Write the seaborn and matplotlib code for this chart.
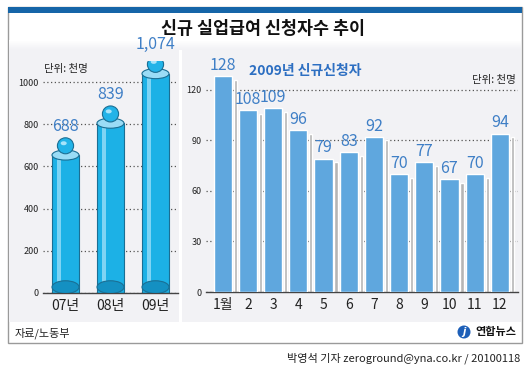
import numpy as np
import pandas as pd
import matplotlib.pyplot as plt
import seaborn as sns
from matplotlib.patches import Rectangle, Ellipse

# data
years = ['07년', '08년', '09년']
yearly = [688, 839, 1074]
yearly_labels = ['688', '839', '1,074']

months = ['1월', '2', '3', '4', '5', '6', '7', '8', '9', '10', '11', '12']
monthly = [128, 108, 109, 96, 79, 83, 92, 70, 77, 67, 70, 94]

sns.set_style('white')
plt.rcParams['font.family'] = ['Noto Sans CJK KR', 'DejaVu Sans']

W, H = 530, 370
fig = plt.figure(figsize=(W / 100, H / 100), dpi=100)
fig.patch.set_facecolor('white')


def fx(px):
    return px / W


def fy(py):
    return 1 - py / H


# frame and backgrounds
fig.add_artist(Rectangle((fx(8), fy(343)), fx(514), 336 / H, transform=fig.transFigure,
                         facecolor='white', edgecolor='#9a9a9a', lw=1.0, zorder=0))
fig.add_artist(Rectangle((fx(9), fy(322)), fx(512), 282 / H, transform=fig.transFigure,
                         facecolor='#f2f2f5', edgecolor='none', zorder=0))
# soft top fade from white into the panel grey
grad = fig.add_axes([fx(9), fy(50), fx(512), 10 / H], zorder=0)
top_c = np.array([1.0, 1.0, 1.0])
bot_c = np.array([0xf2, 0xf2, 0xf5]) / 255
t = np.linspace(0, 1, 10).reshape(-1, 1, 1)
grad.imshow(top_c * (1 - t) + bot_c * t, aspect='auto')
grad.axis('off')
fig.add_artist(Rectangle((fx(179), fy(322)), fx(3), 282 / H, transform=fig.transFigure,
                         facecolor='white', edgecolor='none', zorder=0))
fig.add_artist(Rectangle((fx(8), fy(13)), fx(514), 6 / H, transform=fig.transFigure,
                         facecolor='#1565a8', edgecolor='none', zorder=1))

fig.text(fx(263), fy(29), '신규 실업급여 신청자수 추이', ha='center', va='center',
         fontsize=12.5, fontweight='bold', color='#111111')

# ---------- left: yearly cylinders ----------
ax1 = fig.add_axes([fx(43), fy(293), fx(135), 232 / H])
ax1.set_facecolor('none')
body = [v - 34 for v in yearly]
sns.barplot(x=years, y=body, ax=ax1, color='#1cb1e6', width=0.6, saturation=1,
            edgecolor='#1b6f94', linewidth=0.8, zorder=2)
ax1.set_xlim(-0.5, 2.5)
ax1.set_ylim(0, 1100)
ax1.set_yticks(range(0, 1001, 200))
ax1.grid(axis='y', linestyle=(0, (1, 2)), color='#555555', linewidth=0.9)
ax1.set_axisbelow(True)

ux = 44.5  # px per x unit
uy = 0.211  # px per y unit
for i, (v, b, lab) in enumerate(zip(yearly, body, yearly_labels)):
    # highlight stripe
    ax1.add_patch(Rectangle((i - 0.2, 20), 0.09, b - 20, facecolor='#7fd4f4',
                            edgecolor='none', zorder=3))
    # bottom rounding
    ax1.add_patch(Ellipse((i, 28), 0.6, 60, facecolor='#1490c2', edgecolor='#1b6f94',
                          lw=0.8, zorder=3))
    # top cap
    ax1.add_patch(Ellipse((i, b), 0.6, 10 / uy, facecolor='#9adcf6', edgecolor='#1b6f94',
                          lw=0.8, zorder=4))
    # ball
    ax1.add_patch(Ellipse((i, v + 10), 16 / ux, 16 / uy, facecolor='#22b3e8',
                          edgecolor='#1b6f94', lw=0.8, zorder=5))
    ax1.add_patch(Ellipse((i - 0.04, v + 22), 6 / ux, 4 / uy, facecolor='#a8e4fa',
                          edgecolor='none', zorder=6))
    ax1.text(i, v + 62, lab, ha='center', va='bottom', fontsize=11.5,
             color='#3f7fc6', clip_on=False, zorder=6)

ax1.text(-0.48, 1060, '단위: 천명', fontsize=7.5, style='italic', color='#222222',
         va='center', ha='left')

# ---------- right: monthly bars ----------
ax2 = fig.add_axes([fx(206), fy(292), fx(312), 232 / H])
ax2.set_facecolor('none')
pos = np.arange(len(months))
# shadow bars
ax2.bar(pos + 0.5, [v - 2 for v in monthly], width=0.13, color='#b5b5b5', zorder=2)
sns.barplot(x=pos, y=monthly, ax=ax2, color='#5fa7de', width=0.72, saturation=1,
            native_scale=True, zorder=3)
ax2.set_xlim(-0.66, 11.72)
ax2.set_ylim(0, 137.8)
ax2.set_yticks(range(0, 121, 30))
ax2.set_xticks(pos)
ax2.set_xticklabels(months)
ax2.grid(axis='y', linestyle=(0, (1, 2)), color='#555555', linewidth=0.9)
ax2.set_axisbelow(True)
for i, v in enumerate(monthly):
    ax2.text(i, v + 1.5, str(v), ha='center', va='bottom', fontsize=11.5,
             color='#3f7fc6', clip_on=False, zorder=6)

ax2.text(1.05, 131, '2009년 신규신청자', fontsize=10, fontweight='bold', style='italic',
         color='#2d6fc2', va='center', ha='left')
ax2.text(11.65, 126, '단위: 천명', fontsize=7.5, style='italic', color='#222222',
         va='center', ha='right')

for ax in (ax1, ax2):
    for s in ('top', 'right', 'left'):
        ax.spines[s].set_visible(False)
    ax.spines['bottom'].set_color('#444444')
    ax.spines['bottom'].set_linewidth(1.0)
    ax.tick_params(axis='y', length=0, pad=3, labelsize=6.5, labelcolor='#222222')
    ax.tick_params(axis='x', length=0, pad=4, labelsize=10, labelcolor='#222222')
    ax.set_xlabel('')
    ax.set_ylabel('')
    ax.xaxis.grid(False)

# footer
fig.text(fx(15), fy(333), '자료/노동부', fontsize=8, va='center', ha='left', color='#222222')
fig.add_artist(Ellipse((fx(464), fy(332)), 13 / W, 13 / H, transform=fig.transFigure,
                       facecolor='#1d5fb8', edgecolor='none'))
fig.text(fx(464), fy(332), 'j', fontsize=7, color='white', ha='center', va='center',
         family=['DejaVu Sans'], fontweight='bold', style='italic')
fig.text(fx(516), fy(332), '연합뉴스', fontsize=8, fontweight='bold', va='center',
         ha='right', color='#111111')
fig.text(fx(520), fy(358), '박영석 기자 zeroground@yna.co.kr / 20100118', fontsize=8,
         va='center', ha='right', color='#222222')

fig.savefig('out.png', dpi=100)
